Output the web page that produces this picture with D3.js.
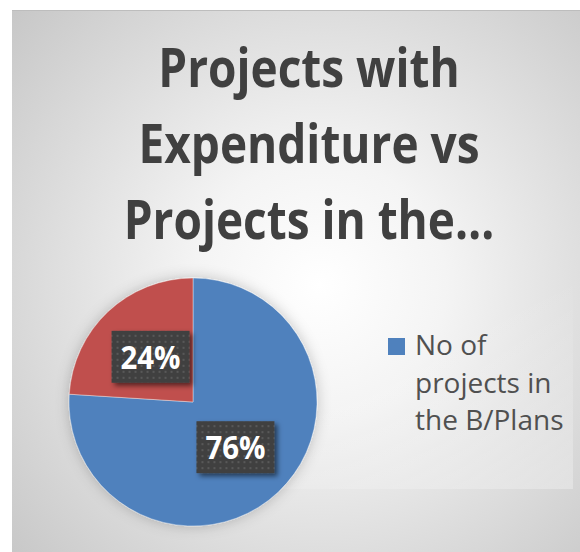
<!DOCTYPE html>
<html>
<head>
<meta charset="utf-8">
<script src="https://cdn.jsdelivr.net/npm/d3@7"></script>
<style>
  html, body { margin: 0; padding: 0; background: #fff; }
  svg { display: block; }
</style>
</head>
<body>
<div id="wrapper"></div>
<script>
// data
var titleLines = ["Projects with", "Expenditure vs", "Projects in the\u2026"];
var categories = ["No of projects in the B/Plans", "No of projects with expenditure"];
var shares = [76, 24];
// only the first legend entry fits in the original
var legendLines = [["No of", "projects in", "the B/Plans"]];
var colors = ["#4F81BD", "#C0504D"];

var width = 580, height = 552;
var cx = 193, cy = 402, radius = 124;

const svg = d3.select('#wrapper').append('svg')
  .attr('width', width)
  .attr('height', height)
  .attr('viewBox', [0, 0, width, height]);

const defs = svg.append('defs');

// chart background gradient
const bg = defs.append('radialGradient')
  .attr('id', 'bg')
  .attr('gradientUnits', 'userSpaceOnUse')
  .attr('cx', 320).attr('cy', 285).attr('r', 420);
bg.append('stop').attr('offset', '0%').attr('stop-color', '#ffffff');
bg.append('stop').attr('offset', '30%').attr('stop-color', '#f4f4f4');
bg.append('stop').attr('offset', '100%').attr('stop-color', '#c6c6c6');

// faint lighter plot area, only right/bottom edge visible
const pa = defs.append('linearGradient')
  .attr('id', 'pa')
  .attr('x1', 0).attr('y1', 0).attr('x2', 1).attr('y2', 1);
pa.append('stop').attr('offset', '0%').attr('stop-color', '#fff').attr('stop-opacity', 0);
pa.append('stop').attr('offset', '55%').attr('stop-color', '#fff').attr('stop-opacity', 0);
pa.append('stop').attr('offset', '100%').attr('stop-color', '#fff').attr('stop-opacity', 0.3);

// dotted fill for the label boxes
const pat = defs.append('pattern')
  .attr('id', 'dots')
  .attr('patternUnits', 'userSpaceOnUse')
  .attr('width', 6).attr('height', 6);
pat.append('rect').attr('width', 6).attr('height', 6).attr('fill', '#404040');
pat.append('rect').attr('x', 2).attr('y', 2).attr('width', 2).attr('height', 2).attr('fill', '#595959');

const sh = defs.append('filter').attr('id', 'boxShadow')
  .attr('x', '-20%').attr('y', '-20%').attr('width', '150%').attr('height', '150%');
sh.append('feDropShadow')
  .attr('dx', 3).attr('dy', 3).attr('stdDeviation', 2.5)
  .attr('flood-color', '#000').attr('flood-opacity', 0.55);

const pieSh = defs.append('filter').attr('id', 'pieShadow')
  .attr('x', '-20%').attr('y', '-20%').attr('width', '140%').attr('height', '140%');
pieSh.append('feDropShadow')
  .attr('dx', 0).attr('dy', 0).attr('stdDeviation', 7)
  .attr('flood-color', '#000').attr('flood-opacity', 0.22);

// chart area
svg.append('rect')
  .attr('x', 12).attr('y', 10)
  .attr('width', width - 12).attr('height', height - 10)
  .attr('fill', 'url(#bg)');
svg.append('line')
  .attr('x1', 12).attr('x2', width).attr('y1', 10.5).attr('y2', 10.5)
  .attr('stroke', '#bdbdbd').attr('stroke-width', 1);
svg.append('rect')
  .attr('x', 20).attr('y', 250)
  .attr('width', 553).attr('height', 239)
  .attr('fill', 'url(#pa)');

// title
const title = svg.append('g')
  .attr('text-anchor', 'middle')
  .style('font', '700 54px "Open Sans", sans-serif')
  .attr('fill', '#404040');
const titleText = title.selectAll('text')
  .data(titleLines)
  .join('text')
  .attr('x', 309)
  .attr('y', (d, i) => 87 + i * 76)
  .text(d => d);
// squeeze to the narrow look of the original font
var refW = titleText.filter((d, i) => i === 1).node().getComputedTextLength();
var squeeze = 341 / refW;
titleText.each(function () {
  var w = this.getComputedTextLength();
  d3.select(this).attr('textLength', w * squeeze).attr('lengthAdjust', 'spacingAndGlyphs');
});

// pie
const pie = d3.pie().sort(null).value(d => d.value);
const arcs = pie(categories.map((c, i) => ({ name: c, value: shares[i], color: colors[i] })));
const arc = d3.arc().innerRadius(0).outerRadius(radius);
const total = d3.sum(shares);

const g = svg.append('g').attr('transform', `translate(${cx},${cy})`);
g.append('g')
  .attr('filter', 'url(#pieShadow)')
  .selectAll('path')
  .data(arcs)
  .join('path')
  .attr('d', arc)
  .attr('fill', d => d.data.color)
  .attr('stroke', '#ffffff')
  .attr('stroke-opacity', 0.5)
  .attr('stroke-width', 0.75);

const lab = g.selectAll('g.lab')
  .data(arcs)
  .join('g')
  .attr('class', 'lab')
  .attr('transform', d => `translate(${arc.centroid(d)})`);
lab.append('rect')
  .attr('x', -39).attr('y', -26)
  .attr('width', 78).attr('height', 52)
  .attr('fill', 'url(#dots)')
  .attr('filter', 'url(#boxShadow)');
lab.append('text')
  .attr('text-anchor', 'middle')
  .attr('dy', '0.36em')
  .attr('fill', '#ffffff')
  .style('font', '700 33px "Open Sans", sans-serif')
  .text(d => d3.format('.0%')(d.data.value / total))
  .each(function () {
    // keep the label inside its box like the original
    var w = this.getComputedTextLength();
    if (w > 60) d3.select(this).attr('textLength', 60).attr('lengthAdjust', 'spacingAndGlyphs');
  });

// legend
const item = svg.append('g').selectAll('g')
  .data(legendLines)
  .join('g')
  .attr('transform', (d, i) => `translate(388,${338 + i * 118})`);
item.append('rect')
  .attr('width', 17).attr('height', 17)
  .attr('fill', (d, i) => colors[i]);
item.append('text')
  .style('font', '400 28px "Open Sans", sans-serif')
  .attr('fill', '#505050')
  .selectAll('tspan')
  .data(d => d)
  .join('tspan')
  .attr('x', 27)
  .attr('y', (d, j) => 17 + j * 37.5)
  .text(d => d);
</script>
</body>
</html>
